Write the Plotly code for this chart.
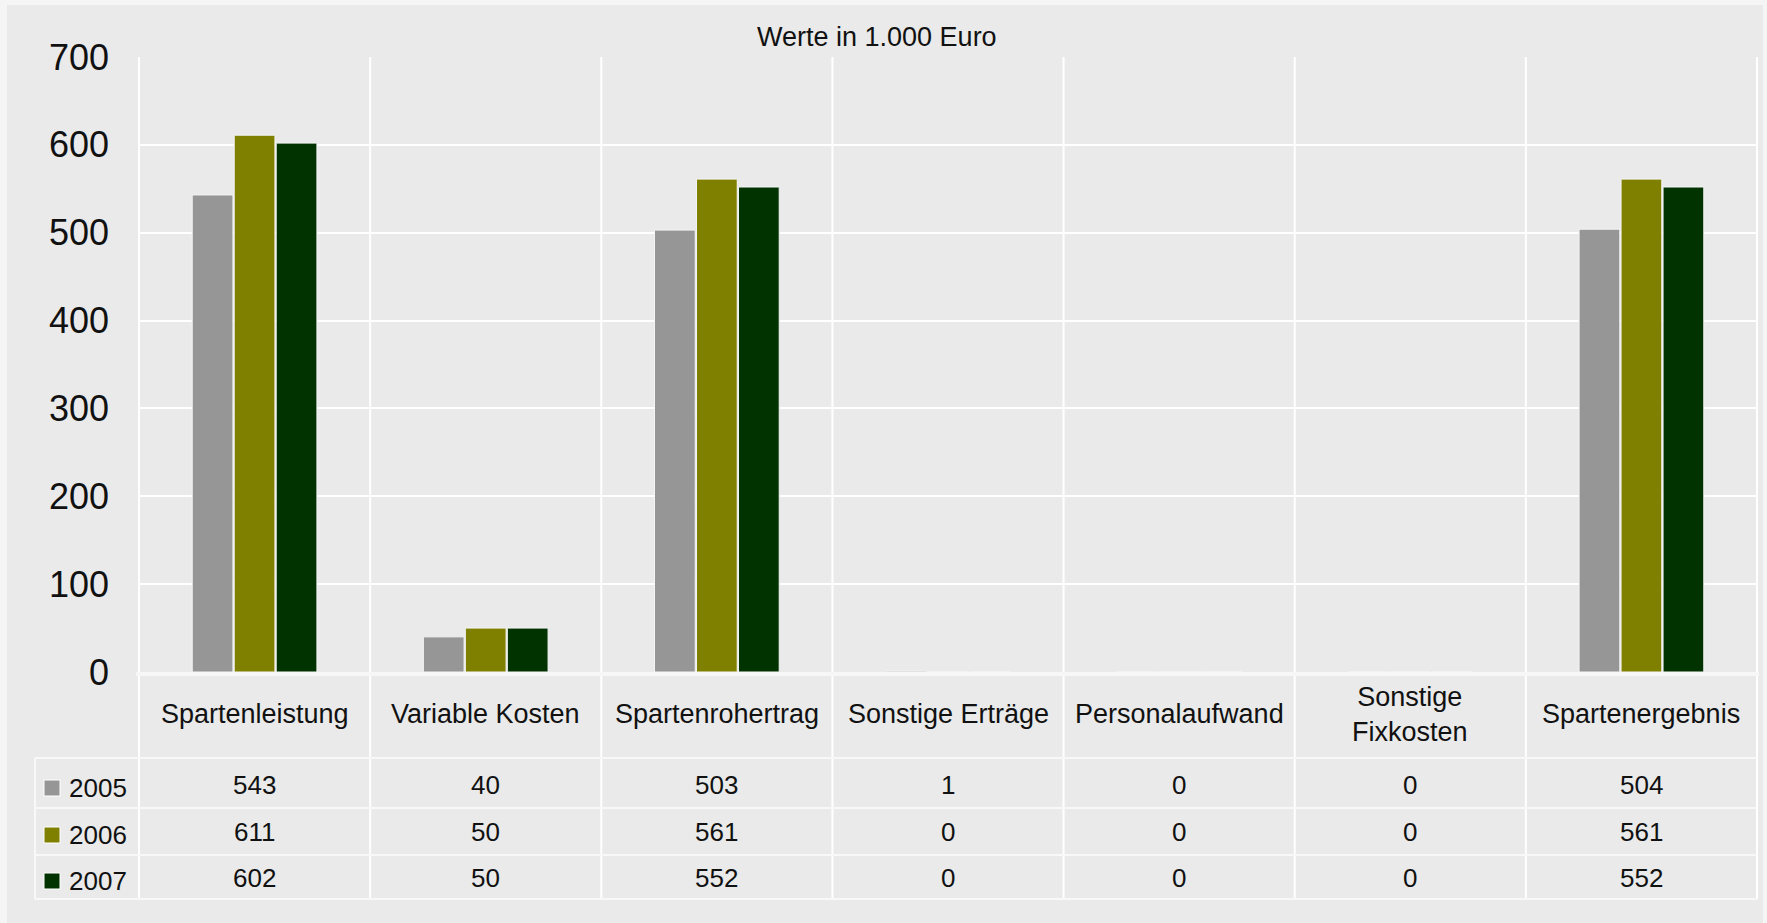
import plotly.graph_objects as go

# ---------------- data ----------------
categories = ["Spartenleistung", "Variable Kosten", "Spartenrohertrag",
              "Sonstige Erträge", "Personalaufwand", "Sonstige Fixkosten",
              "Spartenergebnis"]
header_labels = ["Spartenleistung", "Variable Kosten", "Spartenrohertrag",
                 "Sonstige Erträge", "Personalaufwand", "Sonstige<br>Fixkosten",
                 "Spartenergebnis"]
years = ["2005", "2006", "2007"]
values_2005 = [543, 40, 503, 1, 0, 0, 504]
values_2006 = [611, 50, 561, 0, 0, 0, 561]
values_2007 = [602, 50, 552, 0, 0, 0, 552]
series = [values_2005, values_2006, values_2007]
colors = ["#969696", "#808000", "#003300"]
y_ticks = [0, 100, 200, 300, 400, 500, 600, 700]
title_text = "Werte in 1.000 Euro"

# ---------------- layout helpers (pixels -> paper) ----------------
W, H = 1767, 923
FONT = "Liberation Sans, Arial, sans-serif"


def px(x):
    return x / W


def py(y):
    return 1 - y / H


PLOT_L, PLOT_R = 139, 1757
PLOT_T, PLOT_B = 57, 672
TABLE_L = 35
HEADER_B = 758
ROW_LINES = [808, 855, 899]
ROW_CENTERS = [785, 832, 878]
HEADER_CENTER = 714
ncat = len(categories)
colw = (PLOT_R - PLOT_L) / ncat

fig = go.Figure()
for yr, vals, col in zip(years, series, colors):
    fig.add_trace(go.Bar(
        x=categories, y=vals, name=yr,
        marker=dict(color=col, line=dict(color="#f4f4f4", width=1)),
        showlegend=False, hoverinfo="x+y+name",
    ))

shapes = []
# chart panel
shapes.append(dict(type="rect", xref="paper", yref="paper",
                   x0=px(7), x1=px(1763), y0=py(923), y1=py(5),
                   fillcolor="#e9eae9", line=dict(width=0), layer="below"))
# vertical column lines (plot + table)
for i in range(ncat + 1):
    xx = PLOT_L + i * colw
    shapes.append(dict(type="line", xref="paper", yref="paper",
                       x0=px(xx), x1=px(xx), y0=py(ROW_LINES[-1]), y1=py(PLOT_T),
                       line=dict(color="#ffffff", width=2), layer="below"))
# zero / axis line
shapes.append(dict(type="line", xref="paper", yref="paper",
                   x0=px(136), x1=px(1759), y0=py(674), y1=py(674),
                   line=dict(color="#f7f7f7", width=4), layer="above"))
# table horizontal lines
for yy in [HEADER_B] + ROW_LINES:
    shapes.append(dict(type="line", xref="paper", yref="paper",
                       x0=px(TABLE_L), x1=px(PLOT_R), y0=py(yy), y1=py(yy),
                       line=dict(color="#f8f8f8", width=2), layer="below"))
# table left border
shapes.append(dict(type="line", xref="paper", yref="paper",
                   x0=px(TABLE_L), x1=px(TABLE_L), y0=py(ROW_LINES[-1]), y1=py(HEADER_B),
                   line=dict(color="#f8f8f8", width=2), layer="below"))
# legend squares
for yc, col in zip(ROW_CENTERS, colors):
    shapes.append(dict(type="rect", xref="paper", yref="paper",
                       x0=px(44), x1=px(60), y0=py(yc + 11), y1=py(yc - 5),
                       fillcolor=col, line=dict(color="#ffffff", width=1), layer="above"))

annotations = []
annotations.append(dict(text=title_text, xref="paper", yref="paper",
                        x=px(877), y=py(37), showarrow=False,
                        xanchor="center", yanchor="middle",
                        font=dict(family=FONT, size=27, color="#111111")))
# header labels
for cat, lab in zip(categories, header_labels):
    annotations.append(dict(text=lab, xref="x", yref="paper",
                            x=cat, y=py(HEADER_CENTER), showarrow=False,
                            xanchor="center", yanchor="middle",
                            font=dict(family=FONT, size=27, color="#111111")))
# data cells + legend labels
for yr, vals, yc in zip(years, series, ROW_CENTERS):
    annotations.append(dict(text=yr, xref="paper", yref="paper",
                            x=px(67), y=py(yc + 3), showarrow=False,
                            xanchor="left", yanchor="middle",
                            font=dict(family=FONT, size=26, color="#111111")))
    for cat, v in zip(categories, vals):
        annotations.append(dict(text=str(v), xref="x", yref="paper",
                                x=cat, y=py(yc), showarrow=False,
                                xanchor="center", yanchor="middle",
                                font=dict(family=FONT, size=26, color="#111111")))

fig.update_layout(
    width=W, height=H,
    margin=dict(l=0, r=0, t=0, b=0, pad=0),
    paper_bgcolor="#f5f5f5",
    plot_bgcolor="rgba(0,0,0,0)",
    barmode="group", bargap=0.455, bargroupgap=0.03,
    font=dict(family=FONT, color="#111111"),
    shapes=shapes, annotations=annotations,
    xaxis=dict(domain=[px(PLOT_L), px(PLOT_R)], type="category",
               categoryorder="array", categoryarray=categories,
               range=[-0.5, ncat - 0.5], automargin=False,
               showgrid=False, showticklabels=False, zeroline=False,
               showline=False, ticks=""),
    yaxis=dict(domain=[py(PLOT_B), py(PLOT_T)], range=[0, 700],
               tickvals=y_ticks, showgrid=True, gridcolor="#ffffff", gridwidth=2,
               zeroline=False, showline=False, ticks="", automargin=False,
               ticklabelstandoff=29,
               tickfont=dict(family=FONT, size=36, color="#111111")),
)

fig.write_html("out.html",
               config={"displayModeBar": False},
               post_script="document.body.style.margin='0';document.body.style.overflow='hidden';")
